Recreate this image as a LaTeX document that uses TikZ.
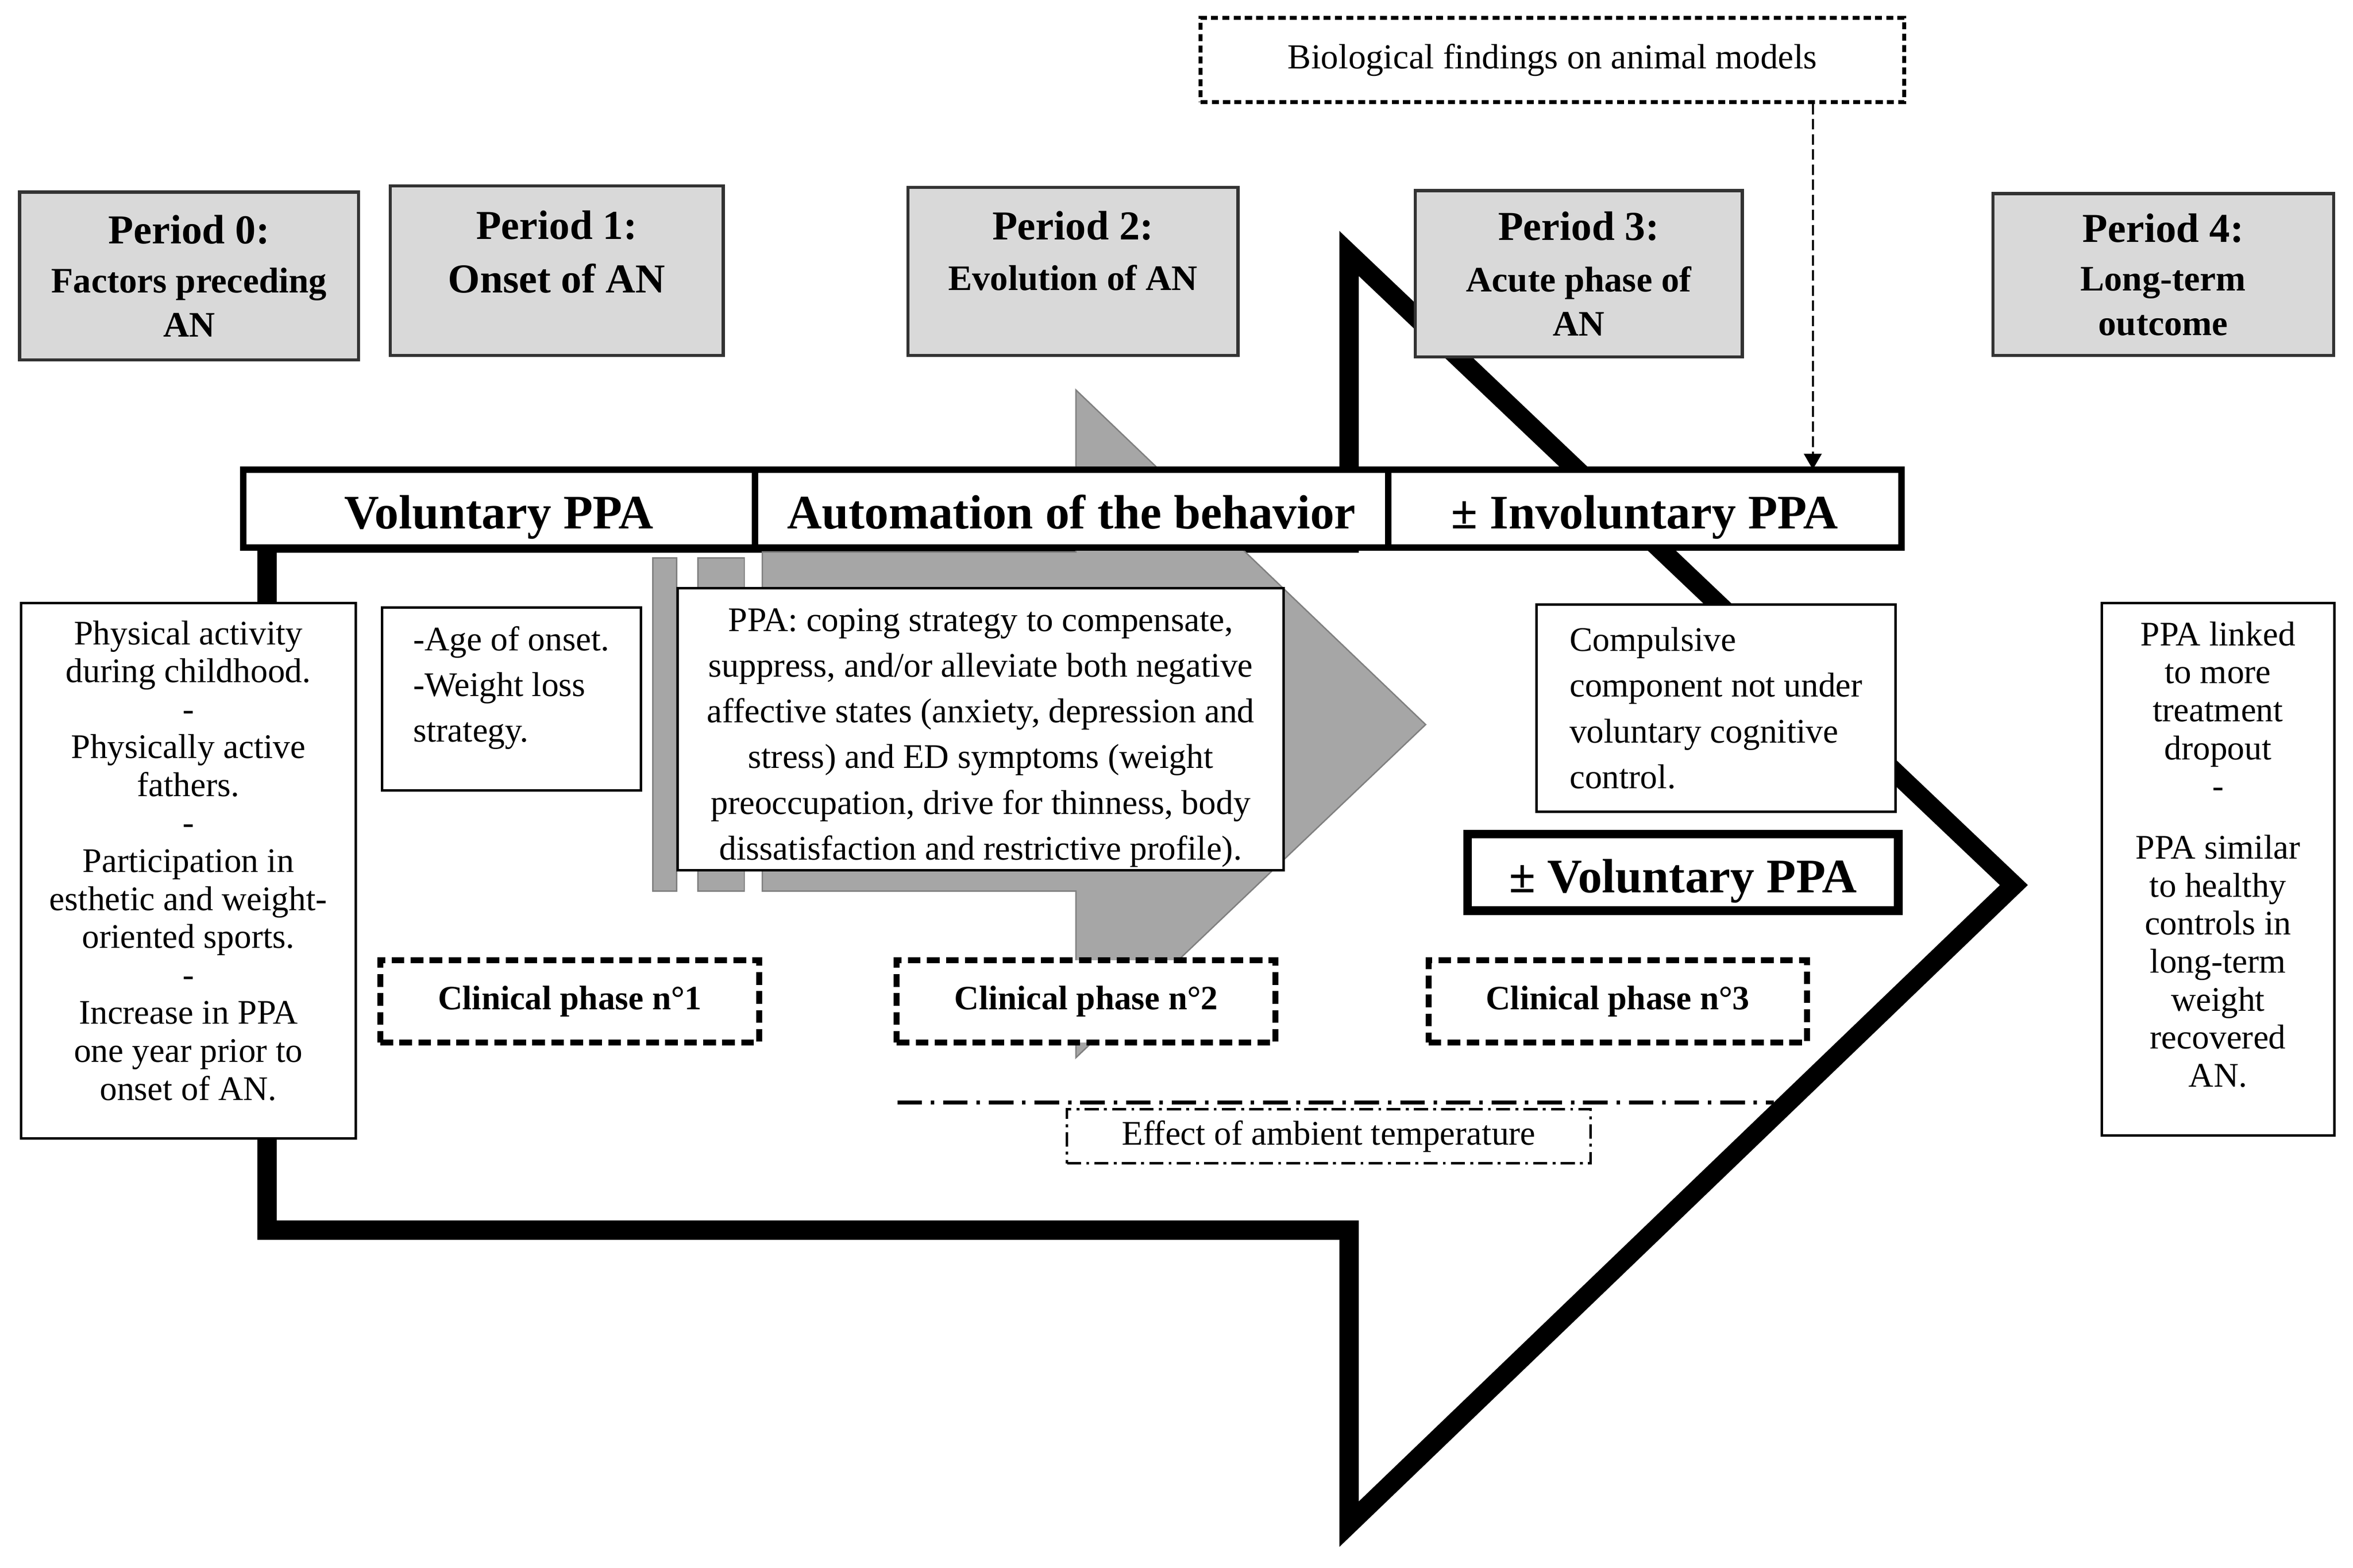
\documentclass[tikz,border=0pt]{standalone}
\usepackage{fontspec}
\setmainfont{Liberation Serif}
\usetikzlibrary{positioning,arrows.meta}

\newcommand{\titlesize}{\fontsize{11.7}{13.5}\selectfont\bfseries}
\newcommand{\subsize}{\fontsize{10.2}{12.6}\selectfont\bfseries}
\newcommand{\barsize}{\fontsize{13.7}{16}\selectfont\bfseries}
\newcommand{\txtsize}{\fontsize{9.8}{10.8}\selectfont}
\newcommand{\widesize}{\fontsize{9.8}{13}\selectfont}
\newcommand{\phasesize}{\fontsize{9.7}{11}\selectfont\bfseries}

\begin{document}
\begin{tikzpicture}[x=0.015cm, y=-0.015cm,
  wh/.style 2 args={minimum width=#1*0.015cm, minimum height=#2*0.015cm},
  periodbox/.style={draw=black!80, line width=0.9pt, fill=black!15, inner sep=0pt,
    align=center, font=\subsize},
  barbox/.style={draw, line width=1.8pt, fill=white, inner sep=0pt, outer sep=0pt,
    text height=11.6pt, text depth=0pt, font=\barsize},
  txtbox/.style={draw, line width=0.7pt, fill=white, inner sep=0pt},
  phasebox/.style={draw, line width=1.7pt, dash pattern=on 3.6pt off 1.8pt,
    fill=white, inner sep=0pt, font=\phasesize},
  biobox/.style={draw, line width=1.1pt, dash pattern=on 2pt off 1.2pt,
    fill=white, inner sep=0pt, font=\fontsize{10}{12}\selectfont},
  tempbox/.style={draw, line width=0.7pt, dash pattern=on 4pt off 1.5pt on 0.8pt off 1.5pt,
    fill=white, inner sep=0pt, font=\txtsize},
  bigarrow/.style={line width=5.5pt, miter limit=10},
  greyarrow/.style={fill=black!35, draw=black!50, line width=0.4pt},
  bioline/.style={line width=0.6pt, dash pattern=on 3pt off 1.3pt,
    -{Triangle[length=4.5pt, width=5pt]}},
  templine/.style={line width=1.2pt, dash pattern=on 7pt off 2.5pt on 1pt off 2.5pt}]

  \useasboundingbox (0,0) rectangle (1568,1045);

  % big white arrow
  \draw[bigarrow] (178,362) -- (178,820) -- (899,820) -- (899,1016)
    -- (1342,590) -- (899,169) -- (899,362) -- cycle;

  % grey arrow with its two bars
  \filldraw[greyarrow] (508,368) -- (717,368) -- (717,260) -- (950,483)
    -- (717,705) -- (717,594) -- (508,594) -- cycle;
  \filldraw[greyarrow] (435,372) rectangle (451,594);
  \filldraw[greyarrow] (465,372) rectangle (496,594);

  % periods
  \node[periodbox, wh={226}{112}] (p0) at (126,184)
    {{\titlesize Period 0:}\\[1.3pt]Factors preceding\\AN};
  \node[periodbox, wh={222}{113}] (p1) at (371,180.5)
    {{\titlesize Period 1:}\\[2.6pt]{\titlesize Onset of AN}\\[-5.5pt]\strut};
  \node[periodbox, wh={220}{112}] (p2) at (715,181)
    {{\titlesize Period 2:}\\[1.7pt]Evolution of AN\\[-4.5pt]\strut};
  \node[periodbox, wh={218}{111}] (p3) at (1052,182.5)
    {{\titlesize Period 3:}\\[2pt]Acute phase of\\AN};
  \node[periodbox, wh={227}{108}] (p4) at (1441.5,183)
    {{\titlesize Period 4:}\\[1.3pt]Long-term\\outcome};

  \node[biobox, wh={469}{56}] (bio) at (1034.5,40) {Biological findings on animal models};

  % behaviour bar
  \node[barbox, wh={341}{52}] (vol) at (332.5,339) {Voluntary PPA};
  \node[barbox, wh={422}{52}, right=0pt of vol] (auto) {Automation of the behavior};
  \node[barbox, wh={342}{52}, right=0pt of auto] (inv) {± Involuntary PPA};

  \coordinate (biox) at (1208,0);
  \draw[bioline] (bio.south -| biox) -- (inv.north -| biox);

  % text boxes
  \node[txtbox, wh={223}{357}, align=center, font=\txtsize] (factors) at (125.5,580.5)
    {Physical activity\\during childhood.\\-\\Physically active\\fathers.\\-\\
     Participation in\\esthetic and weight-\\oriented sports.\\-\\
     Increase in PPA\\one year prior to\\onset of AN.\\[-4.8pt]\mbox{}};
  \node[txtbox, wh={172.5}{122}, align=left, font=\widesize] (onset) at (340.75,466)
    {-Age of onset.\\-Weight loss\\strategy.\\[-4.5pt]\mbox{}};
  \node[txtbox, wh={404}{188}, align=center, font=\widesize] (coping) at (653.5,486)
    {\mbox{}\\[-1.6pt]PPA: coping strategy to compensate,\\suppress, and/or alleviate both negative\\
     affective states (anxiety, depression and\\stress) and ED symptoms (weight\\
     preoccupation, drive for thinness, body\\dissatisfaction and restrictive profile).};
  \node[txtbox, wh={239}{138}, align=left, font=\widesize] (compulsive) at (1143.5,472)
    {Compulsive\\component not under\\voluntary cognitive\\control.};
  \node[barbox, line width=2.5pt, wh={287}{51}] (volpm) at (1121.5,581.5) {± Voluntary PPA};
  \node[txtbox, wh={155}{355}, align=center, font=\txtsize] (outcome) at (1478,579.5)
    {PPA linked\\to more\\treatment\\dropout\\-\\[6.7pt]PPA similar\\to healthy\\
     controls in\\long-term\\weight\\recovered\\AN.\\[-2.2pt]\mbox{}};

  % clinical phases
  \node[phasebox, wh={252.5}{55}] (cp1) at (379.75,667.5) {Clinical phase n°1};
  \node[phasebox, wh={252.5}{55}] (cp2) at (723.8,667.5) {Clinical phase n°2};
  \node[phasebox, wh={252}{55}] (cp3) at (1078,667.5) {Clinical phase n°3};

  % ambient temperature
  \draw[templine] (598,735) -- (1182,735);
  \node[tempbox, wh={349}{36}] (temp) at (885.5,757.5) {Effect of ambient temperature};
\end{tikzpicture}
\end{document}
